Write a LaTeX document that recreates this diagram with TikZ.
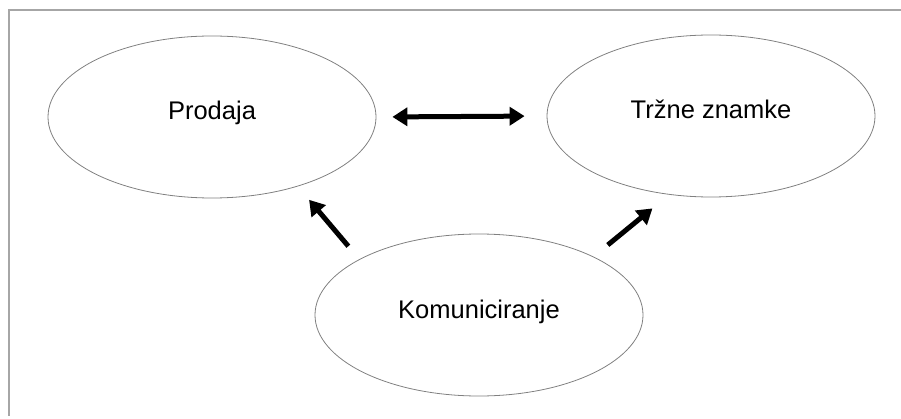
\documentclass[tikz,border=0pt]{standalone}
\usepackage{fontspec}
\setmainfont{Liberation Sans}
\usetikzlibrary{arrows.meta,shapes.geometric}

\begin{document}
\begin{tikzpicture}[x=1pt,y=1pt,
  oval/.style={ellipse,draw=gray,line width=0.8pt,inner sep=0pt,
    minimum width=328pt,minimum height=162pt,
    font=\fontsize{25.5}{30}\selectfont,text height=12pt,text depth=6pt},
  big arrow/.style={line width=5pt,-{Triangle[length=15pt,width=18pt]}}]

  \useasboundingbox (0,0) rectangle (901,418);
  \draw[gray!70,line width=1.4pt] (901,408) -- (9,408) -- (9,2);

  \node[oval] (prodaja) at (212,301) {Prodaja};
  \node[oval] (znamke) at (711,302) {Tržne znamke};
  \node[oval] (kom) at (479,103) {Komuniciranje};

  \path[big arrow]
   (prodaja.east) edge[{Triangle[length=15pt,width=18pt]}-{Triangle[length=15pt,width=18pt]},
     shorten <=16pt,shorten >=22pt] (znamke.west)
   (kom.155.6) edge[shorten <=17pt,shorten >=17.5pt] (prodaja.-39.8)
   (kom.27.1) edge[shorten <=18.4pt,shorten >=21.6pt] (znamke.-118.4);
\end{tikzpicture}
\end{document}
